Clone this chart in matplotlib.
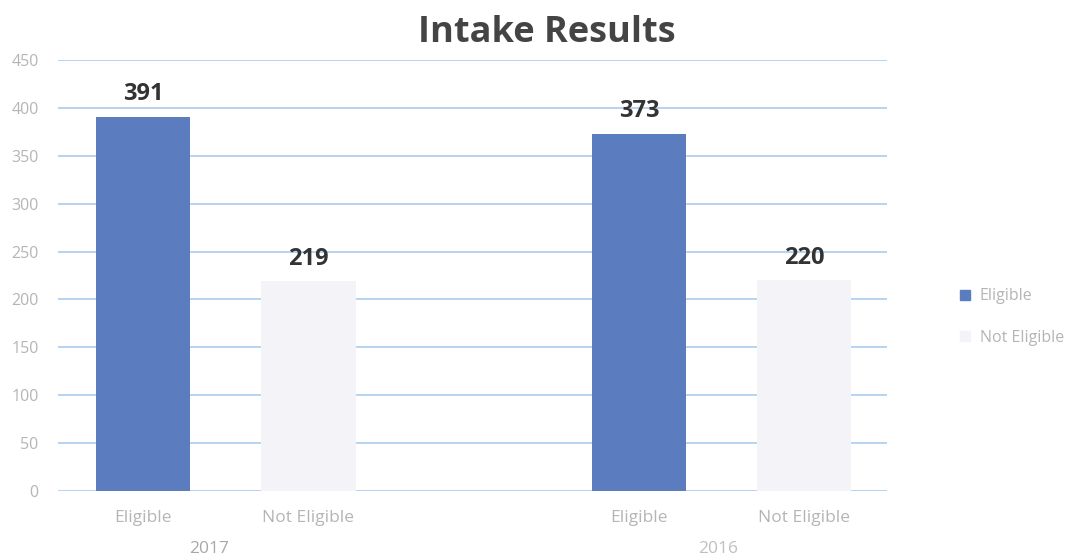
import matplotlib.pyplot as plt
from matplotlib.patches import Patch

# 資料
years = ['2017', '2016']
groups = ['Eligible', 'Not Eligible']
eligible = [391, 373]
not_eligible = [219, 220]

positions_elig = [0, 3]
positions_not = [1, 4]

blue = '#5b7dc0'
light = '#f3f3f8'
tick_gray = '#b5b5b5'

plt.rcParams['font.family'] = ['Open Sans', 'DejaVu Sans']

fig = plt.figure(figsize=(10.84, 5.59), dpi=100)
ax = fig.add_axes([58 / 1084, 68 / 559, 829 / 1084, 431 / 559])

ax.bar(positions_elig, eligible, width=0.57, color=blue, zorder=3)
ax.bar(positions_not, not_eligible, width=0.57, color=light, zorder=3)

# 數值標籤
for x, v in zip(positions_elig + positions_not, eligible + not_eligible):
    ax.text(x, v + 11, str(v), ha='center', va='bottom', fontsize=17,
            fontweight='bold', color='#333333')

ax.set_xlim(-0.515, 4.5)
ax.set_ylim(0, 450)
ax.set_yticks(range(0, 451, 50))
ax.yaxis.grid(True, color='#a9cdee', linewidth=1.2, zorder=0)
ax.tick_params(axis='y', length=0, labelsize=11.5, labelcolor=tick_gray, pad=14)
labels = [groups[0], groups[1], groups[0], groups[1]]
ax.set_xticks([0, 1, 3, 4])
ax.set_xticklabels(labels)
ax.tick_params(axis='x', length=0, labelsize=12.5, labelcolor=tick_gray, pad=14)
for s in ax.spines.values():
    s.set_visible(False)

# 年份標籤
ax.text(0.4, -0.135, years[0], transform=ax.get_xaxis_transform(),
        ha='center', va='center', fontsize=12.5, color='#a8a8a8')
ax.text(3.48, -0.135, years[1], transform=ax.get_xaxis_transform(),
        ha='center', va='center', fontsize=12.5, color='#c0c0c0')

fig.text(547 / 1084, 1 - 33 / 559, 'Intake Results', ha='center', va='center',
         fontsize=26, fontweight='bold', color='#444444')

handles = [Patch(color=blue), Patch(color=light)]
leg = fig.legend(handles, groups, loc='center left',
                 bbox_to_anchor=(946 / 1084, 1 - 317 / 559), frameon=False,
                 fontsize=11.5, handlelength=0.6, handleheight=0.6,
                 labelspacing=1.6, handletextpad=0.6)
for t in leg.get_texts():
    t.set_color(tick_gray)

plt.savefig('out.png')
